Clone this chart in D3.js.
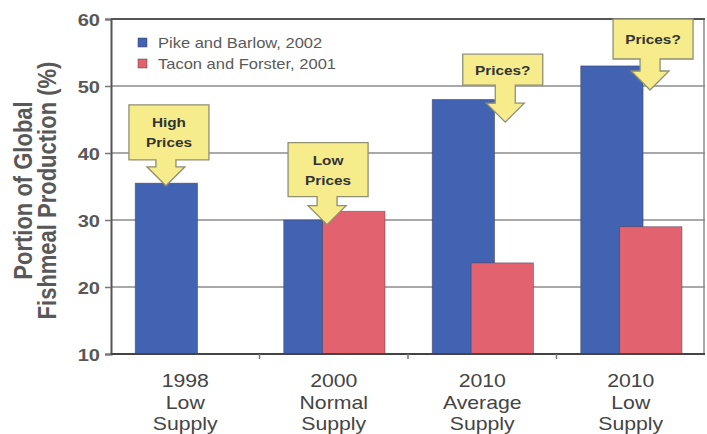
<!DOCTYPE html>
<html>
<head>
<meta charset="utf-8">
<script src="https://cdn.jsdelivr.net/npm/d3@7/dist/d3.min.js"></script>
<style>
  html, body { margin: 0; padding: 0; background: #fff; }
  svg { display: block; font-family: "Liberation Sans", Arial, sans-serif; }
</style>
</head>
<body>
<svg id="chart" width="707" height="434"></svg>
<script>
// ---- data ----
const categories = ["1998 Low Supply", "2000 Normal Supply", "2010 Average Supply", "2010 Low Supply"];
const categoryLines = [["1998", "Low", "Supply"], ["2000", "Normal", "Supply"], ["2010", "Average", "Supply"], ["2010", "Low", "Supply"]];
const seriesNames = ["Pike and Barlow, 2002", "Tacon and Forster, 2001"];
const pikeBarlow = [35.5, 30, 48, 53];
const taconForster = [null, 31.3, 23.6, 29];
const yTicks = [10, 20, 30, 40, 50, 60];
const yTitleLines = ["Portion of Global", "Fishmeal Production (%)"];
const calloutLabels = [["High", "Prices"], ["Low", "Prices"], ["Prices?"], ["Prices?"]];
const calloutTips = [35.1, 29.3, 44.6, 49.4];

// ---- layout ----
const W = 707, H = 434;
const margin = { top: 19, right: 2, bottom: 80, left: 111 };
const SX = 1.18; // horizontal text stretch
const colors = ["#4262b2", "#e2636f"];

const svg = d3.select("#chart");

const x = d3.scaleBand().domain(categories)
  .range([margin.left, W - margin.right]).paddingInner(0).paddingOuter(0);
const y = d3.scaleLinear().domain([10, 60]).range([H - margin.bottom, margin.top]);
const bw = x.bandwidth();
const barW = bw * 0.42;
const seriesOffset = [bw * 0.163, bw * 0.425];

function stretchedText(g, tx, ty, str, rotate) {
  return g.append("text")
    .attr("transform", `translate(${tx},${ty}) scale(${SX},1)` + (rotate ? ` rotate(${rotate})` : ""))
    .text(str);
}

// grid lines
svg.append("g").selectAll("line")
  .data(yTicks.filter(d => d > 10 && d < 60))
  .join("line")
  .attr("x1", margin.left).attr("x2", W - margin.right)
  .attr("y1", d => y(d)).attr("y2", d => y(d))
  .attr("stroke", "#8c8c8c").attr("stroke-width", 1.6);

// right border
svg.append("line")
  .attr("x1", W - margin.right - 1).attr("x2", W - margin.right - 1)
  .attr("y1", y(60)).attr("y2", y(10))
  .attr("stroke", "#8a8a8a").attr("stroke-width", 1.5);
// top border
svg.append("line")
  .attr("x1", margin.left).attr("x2", W - margin.right)
  .attr("y1", y(60)).attr("y2", y(60))
  .attr("stroke", "#555").attr("stroke-width", 2);

// bars
const seriesData = [pikeBarlow, taconForster];
seriesData.forEach((vals, s) => {
  svg.append("g").selectAll("rect")
    .data(categories.map((c, i) => ({ c, v: vals[i] })).filter(d => d.v != null))
    .join("rect")
    .attr("x", d => x(d.c) + seriesOffset[s])
    .attr("width", barW)
    .attr("y", d => y(d.v))
    .attr("height", d => y(10) - y(d.v))
    .attr("fill", colors[s])
    .attr("stroke", "#3a3a50").attr("stroke-opacity", 0.55).attr("stroke-width", 0.8);
});

// y axis
const yAxis = svg.append("g").attr("transform", `translate(${margin.left},0)`)
  .call(d3.axisLeft(y).tickValues(yTicks).tickSize(6).tickFormat(d3.format("d")));
yAxis.select(".domain").attr("stroke", "#555").attr("stroke-width", 2);
yAxis.selectAll(".tick line").attr("stroke", "#777").attr("stroke-width", 1.5);
yAxis.selectAll(".tick text").remove();
yAxis.selectAll(".tick").each(function (d) {
  stretchedText(d3.select(this), -11, 6, d3.format("d")(d))
    .attr("text-anchor", "end").attr("font-size", 17).attr("font-weight", "bold").attr("fill", "#585858");
});

// x axis
const xAxis = svg.append("g").attr("transform", `translate(0,${y(10)})`);
xAxis.append("line").attr("x1", margin.left).attr("x2", W - margin.right)
  .attr("stroke", "#444").attr("stroke-width", 2);
xAxis.selectAll(".sep").data(categories.slice(1)).join("line")
  .attr("x1", d => x(d)).attr("x2", d => x(d)).attr("y1", 0).attr("y2", 5)
  .attr("stroke", "#777").attr("stroke-width", 1.5);
categories.forEach((c, i) => {
  categoryLines[i].forEach((ln, k) => {
    stretchedText(xAxis, x(c) + bw / 2, 33 + k * 21.5, ln)
      .attr("text-anchor", "middle").attr("font-size", 18).attr("fill", "#444");
  });
});

// y title
yTitleLines.forEach((ln, k) => {
  stretchedText(svg, 32 + k * 24, (y(10) + y(60)) / 2 + 4, ln, -90)
    .attr("text-anchor", "middle").attr("font-size", 22).attr("font-weight", "bold").attr("fill", "#585858");
});

// legend
const legend = svg.append("g");
seriesNames.forEach((name, s) => {
  legend.append("rect").attr("x", 138).attr("y", 38 + s * 21).attr("width", 9).attr("height", 9)
    .attr("fill", colors[s]).attr("stroke", "#3a3a50").attr("stroke-opacity", 0.6).attr("stroke-width", 0.8);
  stretchedText(legend, 158, 47.5 + s * 21, name)
    .attr("font-size", 14).attr("fill", "#5a5a5a");
});

// price callouts: box with a down arrow pointing at the bars
const calloutLayout = [
  { tipDx: 0.37, boxDx: 3, boxH: 55, gap: 26 },
  { tipDx: 0.455, boxDx: 1, boxH: 54, gap: 28 },
  { tipDx: 0.655, boxDx: -2.5, boxH: 31, gap: 37 },
  { tipDx: 0.63, boxDx: 3, boxH: 40, gap: 31 }
];
const boxW = 80, stemW = 20, headW = 38, headH = 19;
const callouts = svg.append("g");
categories.forEach((c, i) => {
  const L = calloutLayout[i];
  const tx = x(c) + bw * L.tipDx;
  const ty = y(calloutTips[i]);
  const bx = tx + L.boxDx;
  const bBottom = ty - L.gap;
  const bTop = bBottom - L.boxH;
  const hs = ty - headH;
  const p = d3.path();
  p.moveTo(bx - boxW / 2, bTop);
  p.lineTo(bx + boxW / 2, bTop);
  p.lineTo(bx + boxW / 2, bBottom);
  p.lineTo(tx + stemW / 2, bBottom);
  p.lineTo(tx + stemW / 2, hs);
  p.lineTo(tx + headW / 2, hs);
  p.lineTo(tx, ty);
  p.lineTo(tx - headW / 2, hs);
  p.lineTo(tx - stemW / 2, hs);
  p.lineTo(tx - stemW / 2, bBottom);
  p.lineTo(bx - boxW / 2, bBottom);
  p.closePath();
  callouts.append("path").attr("d", p.toString())
    .attr("fill", "#f6ec8c").attr("stroke", "#8f8f72").attr("stroke-width", 1.3);
  const lines = calloutLabels[i];
  const midY = (bTop + bBottom) / 2;
  lines.forEach((ln, k) => {
    stretchedText(callouts, bx, midY + 5 + (k - (lines.length - 1) / 2) * 20, ln)
      .attr("text-anchor", "middle").attr("font-size", 13).attr("font-weight", "bold").attr("fill", "#333");
  });
});
</script>
</body>
</html>
